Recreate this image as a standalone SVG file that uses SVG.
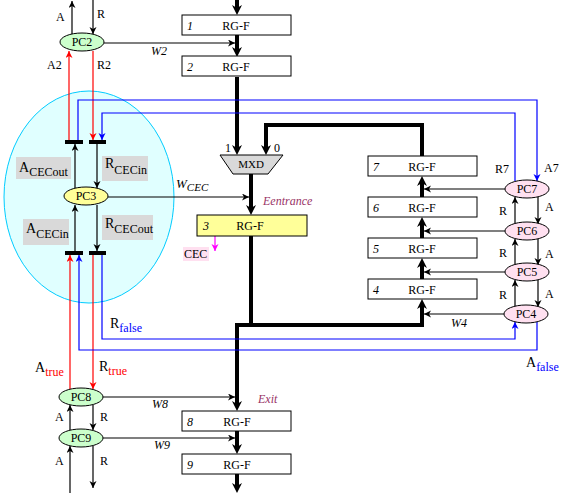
<svg xmlns="http://www.w3.org/2000/svg" width="567" height="493" viewBox="0 0 567 493">
<style>
text{font-family:"Liberation Serif","Times New Roman",serif;font-size:12px;fill:#000}
.it{font-style:italic}
.box{fill:#fff;stroke:#000;stroke-width:1}
.thick{fill:none;stroke:#000;stroke-width:4}
.thin{fill:none;stroke:#000;stroke-width:1.2}
.red{fill:none;stroke:#ff0000;stroke-width:1.2}
.blue{fill:none;stroke:#0000ff;stroke-width:1.2}
.mag{fill:none;stroke:#ff00ff;stroke-width:1.2}
.pcg{fill:#ccffcc;stroke:#000}
.pcy{fill:#ffff99;stroke:#000}
.pcp{fill:#ffe0f0;stroke:#000}
.lbl{fill:#d9d9d9}
.pur{fill:#993366}
.sub{font-size:12px}
.big{font-size:14px}
</style>
<defs>
<marker id="ta" markerUnits="userSpaceOnUse" markerWidth="12" markerHeight="12" refX="6" refY="5" orient="auto"><path d="M0,0 L10,5 L0,10 L3,5 z" fill="#000"/></marker>
<marker id="ak" markerUnits="userSpaceOnUse" markerWidth="8" markerHeight="8" refX="7" refY="3.5" orient="auto"><path d="M0,0 L7,3.5 L0,7 L2,3.5 z" fill="#000"/></marker>
<marker id="ar" markerUnits="userSpaceOnUse" markerWidth="8" markerHeight="8" refX="7" refY="3.5" orient="auto"><path d="M0,0 L7,3.5 L0,7 L2,3.5 z" fill="#ff0000"/></marker>
<marker id="ab" markerUnits="userSpaceOnUse" markerWidth="8" markerHeight="8" refX="7" refY="3.5" orient="auto"><path d="M0,0 L7,3.5 L0,7 L2,3.5 z" fill="#0000ff"/></marker>
<marker id="am" markerUnits="userSpaceOnUse" markerWidth="8" markerHeight="8" refX="7" refY="3.5" orient="auto"><path d="M0,0 L7,3.5 L0,7 L2,3.5 z" fill="#ff00ff"/></marker>
</defs>

<g id="cec-area">
<ellipse cx="89" cy="197" rx="85" ry="106" fill="#e0ffff" stroke="#00ccff" stroke-width="1"/>
<rect class="lbl" x="16" y="157" width="55" height="22"/>
<text x="19" y="172" class="big">A<tspan class="sub" dy="4">CECout</tspan></text>
<rect class="lbl" x="102" y="156" width="46" height="25"/>
<text x="105" y="168" class="big">R<tspan class="sub" dy="6">CECin</tspan></text>
<rect class="lbl" x="23" y="219" width="46" height="26"/>
<text x="26" y="233" class="big">A<tspan class="sub" dy="5">CECin</tspan></text>
<rect class="lbl" x="102" y="215" width="51" height="25"/>
<text x="105" y="228" class="big">R<tspan class="sub" dy="5">CECout</tspan></text>
<rect x="65" y="140" width="18" height="4" fill="#000"/>
<rect x="89" y="140" width="17" height="4" fill="#000"/>
<rect x="65" y="251" width="18" height="4" fill="#000"/>
<rect x="89" y="251" width="17" height="4" fill="#000"/>
</g>

<g id="connectors">
<!-- thick data path -->
<path class="thick" d="M237,0 V11" marker-end="url(#ta)"/>
<path class="thick" d="M237,35 V53" marker-end="url(#ta)"/>
<path class="thick" d="M237,77 V151" marker-end="url(#ta)"/>
<path class="thick" d="M422,156 V125 H266 V151" marker-end="url(#ta)"/>
<path class="thick" d="M251,174 V211" marker-end="url(#ta)"/>
<path class="thick" d="M251,236 V325 H422 V303" marker-end="url(#ta)"/>
<path class="thick" d="M422,325 H237 V407" marker-end="url(#ta)"/>
<path class="thick" d="M422,279 V262" marker-end="url(#ta)"/>
<path class="thick" d="M422,238 V221" marker-end="url(#ta)"/>
<path class="thick" d="M422,197 V180" marker-end="url(#ta)"/>
<path class="thick" d="M237,431 V450" marker-end="url(#ta)"/>
<path class="thick" d="M237,474 V489" marker-end="url(#ta)"/>
<!-- PC2 -->
<path class="thin" d="M72,34 V1" marker-end="url(#ak)"/>
<path class="thin" d="M93,0 V34" marker-end="url(#ak)"/>
<path class="thin" d="M104,43 H235" marker-end="url(#ak)"/>
<path class="red" d="M69,140 V51" marker-end="url(#ar)"/>
<path class="red" d="M93,51 V140" marker-end="url(#ar)"/>
<!-- blue loops to PC7 -->
<path class="blue" d="M78,140 V100 H537 V181" marker-end="url(#ab)"/>
<path class="blue" d="M515,181 V113 H102 V140" marker-end="url(#ab)"/>
<!-- PC3 -->
<path class="thin" d="M75,188 V144" marker-end="url(#ak)"/>
<path class="thin" d="M97,144 V188" marker-end="url(#ak)"/>
<path class="thin" d="M75,251 V205" marker-end="url(#ak)"/>
<path class="thin" d="M97,205 V251" marker-end="url(#ak)"/>
<path class="thin" d="M108,197 H249" marker-end="url(#ak)"/>
<!-- CEC -->
<path class="mag" d="M215,236 V251" marker-end="url(#am)"/>
<!-- lower latches -->
<path class="red" d="M70,389 V255" marker-end="url(#ar)"/>
<path class="red" d="M93,255 V389" marker-end="url(#ar)"/>
<path class="blue" d="M537,322 V350 H79 V255" marker-end="url(#ab)"/>
<path class="blue" d="M102,255 V339 H515 V322" marker-end="url(#ab)"/>
<!-- PC8/PC9 -->
<path class="thin" d="M103,397 H235" marker-end="url(#ak)"/>
<path class="thin" d="M103,438 H235" marker-end="url(#ak)"/>
<path class="thin" d="M70,430 V405" marker-end="url(#ak)"/>
<path class="thin" d="M93,405 V430" marker-end="url(#ak)"/>
<path class="thin" d="M70,493 V446" marker-end="url(#ak)"/>
<path class="thin" d="M93,446 V488" marker-end="url(#ak)"/>
<!-- right PCs -->
<path class="thin" d="M505,189 H424" marker-end="url(#ak)"/>
<path class="thin" d="M505,231 H424" marker-end="url(#ak)"/>
<path class="thin" d="M505,272 H424" marker-end="url(#ak)"/>
<path class="thin" d="M504,314 H424" marker-end="url(#ak)"/>
<path class="thin" d="M515,224 V197" marker-end="url(#ak)"/>
<path class="thin" d="M515,265 V239" marker-end="url(#ak)"/>
<path class="thin" d="M515,307 V280" marker-end="url(#ak)"/>
<path class="thin" d="M538,197 V224" marker-end="url(#ak)"/>
<path class="thin" d="M538,239 V265" marker-end="url(#ak)"/>
<path class="thin" d="M538,280 V307" marker-end="url(#ak)"/>
</g>

<g id="labels">
<text x="56" y="21">A</text>
<text x="97" y="18">R</text>
<text x="47" y="69">A2</text>
<text x="97" y="69">R2</text>
<text x="151" y="55" class="it">W2</text>
<text x="176" y="188" class="it" style="font-size:13px">W<tspan class="it" style="font-size:11px" dy="3">CEC</tspan></text>
<text x="263" y="205" class="it pur">Eentrance</text>
<text x="110" y="328" class="big">R<tspan class="sub" dy="4" fill="#0000ff">false</tspan></text>
<text x="35" y="372" class="big">A<tspan class="sub" dy="4" fill="#ff0000">true</tspan></text>
<text x="99" y="371" class="big">R<tspan class="sub" dy="4" fill="#ff0000">true</tspan></text>
<text x="526" y="367" class="big">A<tspan class="sub" dy="4" fill="#0000ff">false</tspan></text>
<text x="55" y="421">A</text>
<text x="100" y="421">R</text>
<text x="55" y="465">A</text>
<text x="100" y="465">R</text>
<text x="152" y="408" class="it">W8</text>
<text x="154" y="449" class="it">W9</text>
<text x="258" y="403" class="it pur">Exit</text>
<text x="495" y="173">R7</text>
<text x="544" y="172">A7</text>
<text x="499" y="215">R</text>
<text x="545" y="211">A</text>
<text x="499" y="257">R</text>
<text x="545" y="258">A</text>
<text x="499" y="299">R</text>
<text x="545" y="298">A</text>
<text x="451" y="327" class="it">W4</text>
</g>

<g id="rg1"><rect class="box" x="182" y="15" width="109" height="20"/><text x="187" y="30" class="it">1</text><text x="236" y="30" text-anchor="middle">RG-F</text></g>
<g id="rg2"><rect class="box" x="182" y="56" width="109" height="20"/><text x="187" y="71" class="it">2</text><text x="236" y="71" text-anchor="middle">RG-F</text></g>
<g id="mxd"><polygon points="220,155 283,155 268,174 233,174" fill="#d9d9d9" stroke="#000"/><text x="251" y="168" text-anchor="middle" style="font-size:11px">MXD</text><text x="225" y="152">1</text><text x="274" y="152">0</text></g>
<g id="rg3"><rect x="197" y="215" width="110" height="21" fill="#ffff99" stroke="#000"/><text x="203" y="230" class="it">3</text><text x="250" y="230" text-anchor="middle">RG-F</text></g>
<g id="cec"><rect x="183" y="247" width="26" height="14" fill="#ffe0f0"/><text x="184" y="258">CEC</text></g>
<g id="rg7"><rect class="box" x="368" y="156" width="109" height="20"/><text x="373" y="171" class="it">7</text><text x="422" y="171" text-anchor="middle">RG-F</text></g>
<g id="rg6"><rect class="box" x="368" y="197" width="109" height="20"/><text x="373" y="212" class="it">6</text><text x="422" y="212" text-anchor="middle">RG-F</text></g>
<g id="rg5"><rect class="box" x="368" y="238" width="109" height="20"/><text x="373" y="253" class="it">5</text><text x="422" y="253" text-anchor="middle">RG-F</text></g>
<g id="rg4"><rect class="box" x="368" y="279" width="109" height="20"/><text x="373" y="294" class="it">4</text><text x="422" y="294" text-anchor="middle">RG-F</text></g>
<g id="rg8"><rect class="box" x="182" y="411" width="109" height="20"/><text x="187" y="426" class="it">8</text><text x="237" y="426" text-anchor="middle">RG-F</text></g>
<g id="rg9"><rect class="box" x="182" y="454" width="109" height="20"/><text x="187" y="469" class="it">9</text><text x="237" y="469" text-anchor="middle">RG-F</text></g>

<g id="pc2"><ellipse class="pcg" cx="82" cy="42" rx="22" ry="9"/><text x="82" y="46" text-anchor="middle">PC2</text></g>
<g id="pc3"><ellipse class="pcy" cx="86" cy="196" rx="22" ry="9"/><text x="86" y="200" text-anchor="middle">PC3</text></g>
<g id="pc8"><ellipse class="pcg" cx="81" cy="397" rx="22" ry="9"/><text x="81" y="401" text-anchor="middle">PC8</text></g>
<g id="pc9"><ellipse class="pcg" cx="81" cy="438" rx="22" ry="9"/><text x="81" y="442" text-anchor="middle">PC9</text></g>
<g id="pc7"><ellipse class="pcp" cx="527" cy="189" rx="22" ry="9"/><text x="527" y="193" text-anchor="middle">PC7</text></g>
<g id="pc6"><ellipse class="pcp" cx="527" cy="231" rx="22" ry="9"/><text x="527" y="235" text-anchor="middle">PC6</text></g>
<g id="pc5"><ellipse class="pcp" cx="527" cy="272" rx="22" ry="9"/><text x="527" y="276" text-anchor="middle">PC5</text></g>
<g id="pc4"><ellipse class="pcp" cx="526" cy="314" rx="22" ry="9"/><text x="526" y="318" text-anchor="middle">PC4</text></g>
</svg>
